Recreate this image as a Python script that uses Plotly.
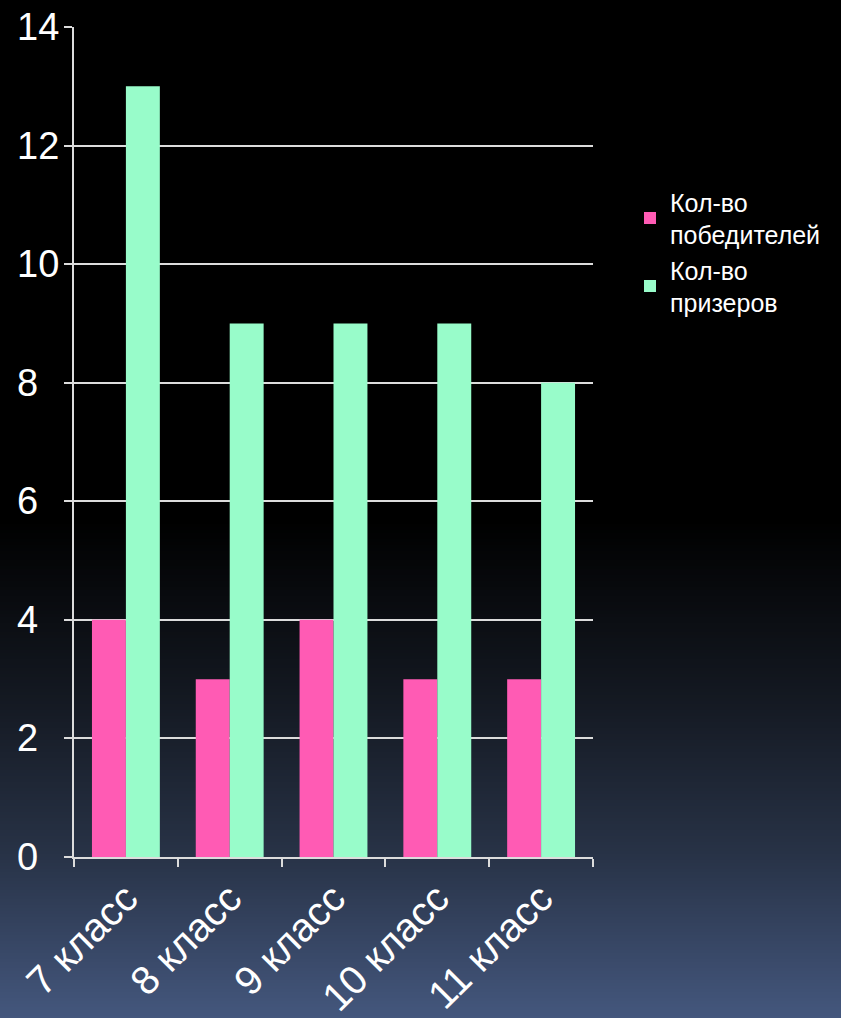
import plotly.graph_objects as go

categories = ["7 класс", "8 класс", "9 класс", "10 класс", "11 класс"]
winners = [4, 3, 4, 3, 3]
prizewinners = [13, 9, 9, 9, 8]
series_names = ["Кол-во<br>победителей", "Кол-во<br>призеров"]
y_ticks = [0, 2, 4, 6, 8, 10, 12, 14]

W, H = 841, 1018
ML, MR, MT, MB = 74, 248, 27, 161
PW, PH = W - ML - MR, H - MT - MB

def px_to_paper_x(px):
    return (px - ML) / PW

def px_to_paper_y(py):
    return (H - MB - py) / PH

FONT = "Liberation Sans, Arial, sans-serif"
PINK = "#FF5BB4"
GREEN = "#98FCCA"
GRID = "#dcdcdc"

fig = go.Figure()
fig.add_trace(go.Bar(x=categories, y=winners, name=series_names[0],
                     marker=dict(color=PINK, line=dict(width=0))))
fig.add_trace(go.Bar(x=categories, y=prizewinners, name=series_names[1],
                     marker=dict(color=GREEN, line=dict(width=0))))

# background gradient (styling only)
stops = [(0, (0, 0, 0)), (520, (0, 0, 0)), (700, (20, 25, 34)),
         (857, (40, 51, 71)), (1018, (68, 87, 125))]

def color_at(py):
    for (y0, c0), (y1, c1) in zip(stops[:-1], stops[1:]):
        if y0 <= py <= y1:
            t = (py - y0) / (y1 - y0) if y1 > y0 else 0
            return tuple(round(a + (b - a) * t) for a, b in zip(c0, c1))
    return stops[-1][1]

shapes = []
step = 3
for py in range(500, H, step):
    c = color_at(py + step / 2)
    shapes.append(dict(type="rect", xref="paper", yref="paper", layer="below",
                       x0=px_to_paper_x(0), x1=px_to_paper_x(W),
                       y0=px_to_paper_y(py + step + 0.5), y1=px_to_paper_y(py),
                       fillcolor="rgb(%d,%d,%d)" % c, line=dict(width=0)))

annotations = []
for v in y_ticks:
    annotations.append(dict(x=px_to_paper_x(15), xref="paper", y=v, yref="y",
                            text=str(v), showarrow=False, xanchor="left",
                            yanchor="middle",
                            font=dict(family=FONT, size=38, color="white")))

fig.update_layout(
    width=W, height=H,
    margin=dict(l=ML, r=MR, t=MT, b=MB, pad=0, autoexpand=False),
    paper_bgcolor="black", plot_bgcolor="rgba(0,0,0,0)",
    barmode="group", bargap=0.346, bargroupgap=0,
    shapes=shapes, annotations=annotations,
    font=dict(family=FONT, color="white"),
    legend=dict(x=px_to_paper_x(630), y=px_to_paper_y(179), xanchor="left", yanchor="top",
                font=dict(family=FONT, size=25, color="white"),
                bgcolor="rgba(0,0,0,0)", itemwidth=30, tracegroupgap=0),
    xaxis=dict(showline=True, linecolor=GRID, linewidth=1.5, ticks="outside",
               tickson="boundaries", ticklen=8, tickwidth=1.5, tickcolor=GRID,
               tickangle=-45, tickfont=dict(family=FONT, size=40, color="white"),
               showgrid=False, zeroline=False, automargin=False),
    yaxis=dict(range=[0, 14], tickvals=y_ticks, showticklabels=False,
               showline=True, linecolor=GRID, linewidth=1.5, ticks="outside",
               ticklen=8, tickwidth=1.5, tickcolor=GRID, automargin=False,
               showgrid=True, gridcolor=GRID, gridwidth=1.5, zeroline=False),
)

fig.write_html("out.html", config={"displayModeBar": False},
               post_script="document.body.style.margin='0';document.body.style.background='black';")
